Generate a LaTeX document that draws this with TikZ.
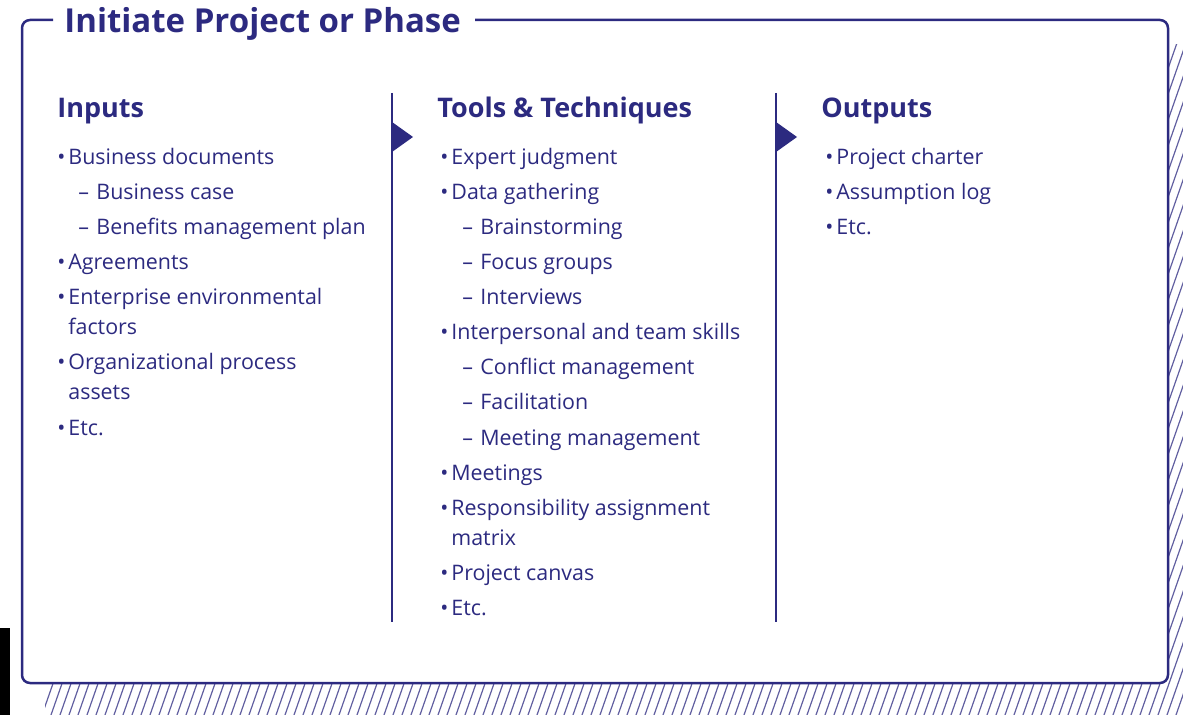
\documentclass[tikz,border=0pt]{standalone}
\usepackage{fontspec}
\setmainfont{Open Sans}
\usetikzlibrary{positioning}
\definecolor{pmiblue}{RGB}{44,42,128}
\newcommand{\bul}{\makebox[5.5pt][l]{\textbullet}}
\newcommand{\dsh}{\makebox[9pt][l]{--}}

\begin{document}
\begin{tikzpicture}[
        x=0.5pt, y=-0.5pt,
        frame/.style={draw=pmiblue, line width=1.25pt, rounded corners=4pt},
        hatch/.style={draw=pmiblue!75, line width=0.6pt},
        divider/.style={draw=pmiblue, line width=0.8pt},
        flowtip/.style={fill=pmiblue},
        titletext/.style={
            anchor=base west, inner sep=0pt,
            font=\fontsize{16.5}{20}\selectfont\bfseries,
            text=pmiblue
        },
        heading/.style={
            anchor=base west, inner sep=0pt,
            font=\fontsize{13.5}{16}\selectfont\bfseries,
            text=pmiblue
        },
        entry/.style={
            anchor=base west, inner sep=0pt,
            align=left,
            font=\fontsize{10.7}{15}\selectfont,
            text=pmiblue
        }
    ]
    \useasboundingbox (0,0) rectangle (1183,715);

    % hatched shadow
    \begin{scope}
        \clip (45,45) rectangle (1183,715);
        \foreach \hx in {-300,-291,...,1190}
            \draw[hatch] (\hx,715) -- ++(250,-715);
    \end{scope}

    % frame with title gap
    \fill[white, rounded corners=4pt] (22,20) rectangle (1168,683);
    \draw[frame] (53,20) -- (22,20) -- (22,683) -- (1168,683)
        -- (1168,20) -- (475,20);
    \node[titletext] (title) at (64,33) {Initiate Project or Phase};

    \fill (0,628) rectangle (10,715);

    % dividers
    \draw[divider] (392,93) -- (392,622);
    \draw[divider] (776,93) -- (776,622);
    \fill[flowtip] (392,122) -- (413,137) -- (392,152) -- cycle;
    \fill[flowtip] (776,122) -- (797,137) -- (776,152) -- cycle;

    % inputs (two-line entries sit on their last baseline)
    \node[heading] (inputs) at (57,118) {Inputs};
    \node[entry] (in1) at (57,165) {\bul Business documents};
    \node[entry] (in1a) at (78,200) {\dsh Business case};
    \node[entry] (in1b) at (78,235) {\dsh Benefits management plan};
    \node[entry] (in2) at (57,270) {\bul Agreements};
    \node[entry] (in3) at (57,335) {\bul Enterprise environmental\\\hspace*{5.5pt}factors};
    \node[entry] (in4) at (57,400) {\bul Organizational process\\\hspace*{5.5pt}assets};
    \node[entry] (in5) at (57,436) {\bul Etc.};

    % tools and techniques
    \node[heading] (tools) at (437,118) {Tools \& Techniques};
    \node[entry] (tt1) at (440,165) {\bul Expert judgment};
    \node[entry] (tt2) at (440,200) {\bul Data gathering};
    \node[entry] (tt2a) at (462,235) {\dsh Brainstorming};
    \node[entry] (tt2b) at (462,270) {\dsh Focus groups};
    \node[entry] (tt2c) at (462,305) {\dsh Interviews};
    \node[entry] (tt3) at (440,340) {\bul Interpersonal and team skills};
    \node[entry] (tt3a) at (462,375) {\dsh Conflict management};
    \node[entry] (tt3b) at (462,410) {\dsh Facilitation};
    \node[entry] (tt3c) at (462,446) {\dsh Meeting management};
    \node[entry] (tt4) at (440,481) {\bul Meetings};
    \node[entry] (tt5) at (440,546) {\bul Responsibility assignment\\\hspace*{5.5pt}matrix};
    \node[entry] (tt6) at (440,581) {\bul Project canvas};
    \node[entry] (tt7) at (440,616) {\bul Etc.};

    % outputs
    \node[heading] (outputs) at (821,118) {Outputs};
    \node[entry] (out1) at (825,165) {\bul Project charter};
    \node[entry] (out2) at (825,200) {\bul Assumption log};
    \node[entry] (out3) at (825,235) {\bul Etc.};
\end{tikzpicture}
\end{document}
